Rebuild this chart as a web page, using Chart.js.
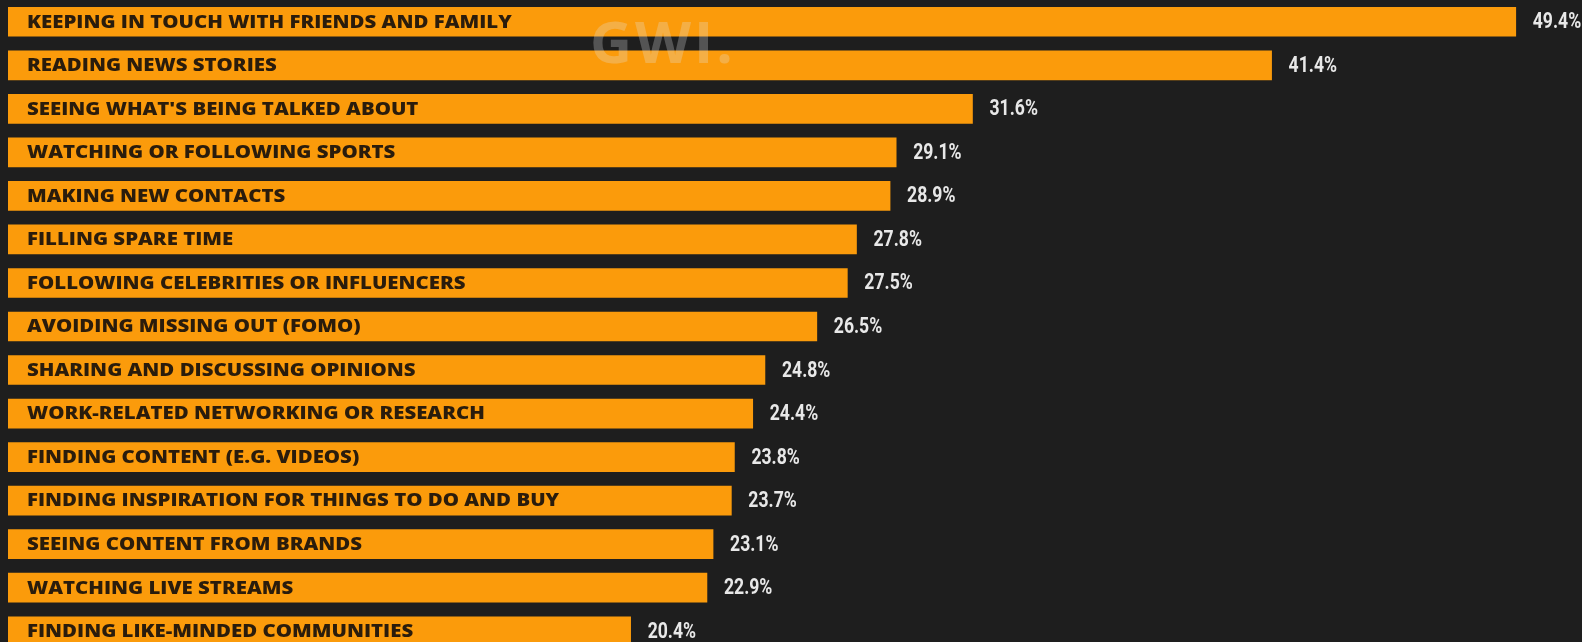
<!DOCTYPE html>
<html>
<head>
<meta charset="utf-8">
<script src="https://cdn.jsdelivr.net/npm/chart.js@4/dist/chart.umd.min.js"></script>
<style>
  html, body { margin: 0; padding: 0; background: #1e1e1e; overflow: hidden; }
  #wrap { width: 1582px; height: 653px; position: relative; }
</style>
</head>
<body>
<div id="wrap"><canvas id="reasonsChart"></canvas></div>
<script>
// ===== DATA =====
const categories = [
  "KEEPING IN TOUCH WITH FRIENDS AND FAMILY",
  "READING NEWS STORIES",
  "SEEING WHAT'S BEING TALKED ABOUT",
  "WATCHING OR FOLLOWING SPORTS",
  "MAKING NEW CONTACTS",
  "FILLING SPARE TIME",
  "FOLLOWING CELEBRITIES OR INFLUENCERS",
  "AVOIDING MISSING OUT (FOMO)",
  "SHARING AND DISCUSSING OPINIONS",
  "WORK-RELATED NETWORKING OR RESEARCH",
  "FINDING CONTENT (E.G. VIDEOS)",
  "FINDING INSPIRATION FOR THINGS TO DO AND BUY",
  "SEEING CONTENT FROM BRANDS",
  "WATCHING LIVE STREAMS",
  "FINDING LIKE-MINDED COMMUNITIES"
];
const shares = [49.4, 41.4, 31.6, 29.1, 28.9, 27.8, 27.5, 26.5, 24.8, 24.4, 23.8, 23.7, 23.1, 22.9, 20.4];

const BAR_COLOR = "#fb9b0b";

// ===== LABELS =====
const barLabels = {
  id: "barLabels",
  afterDatasetsDraw(chart) {
    const ctx = chart.ctx;
    const meta = chart.getDatasetMeta(0);
    ctx.save();
    ctx.textBaseline = "middle";
    ctx.textAlign = "left";
    meta.data.forEach((bar, i) => {
      // category name inside the bar, stretched wide
      ctx.save();
      ctx.translate(bar.base + 19, bar.y + 1);
      ctx.scale(1.2, 1);
      ctx.fillStyle = "#2a1c0c";
      ctx.font = "800 17px 'Open Sans'";
      ctx.fillText(categories[i], 0, 0);
      ctx.restore();

      // value to the right of the bar, squeezed to look condensed
      ctx.save();
      ctx.translate(bar.x + 17, bar.y + 1);
      ctx.scale(0.8, 1);
      ctx.fillStyle = "#e8e8e8";
      ctx.font = "bold 22px Roboto";
      ctx.fillText(shares[i].toFixed(1) + "%", 0, 0);
      ctx.restore();
    });

    // watermark
    ctx.fillStyle = "rgba(225,225,225,0.28)";
    ctx.font = "bold 58px 'Open Sans'";
    ctx.letterSpacing = "3px";
    ctx.textBaseline = "alphabetic";
    ctx.fillText("GWI.", 590, 63);
    ctx.restore();
  }
};

// ===== CHART =====
const ctx = document.getElementById("reasonsChart").getContext("2d");

new Chart(ctx, {
  type: "bar",
  data: {
    labels: categories,
    datasets: [
      {
        data: shares,
        backgroundColor: BAR_COLOR,
        barThickness: 29,
        borderWidth: 0
      }
    ]
  },
  options: {
    indexAxis: "y",
    responsive: true,
    maintainAspectRatio: false,
    animation: false,
    layout: { padding: { left: 8, right: 0, top: 0, bottom: 0 } },
    scales: {
      x: { display: false, min: 0, max: 51.57 },
      y: { display: false }
    },
    plugins: {
      legend: { display: false },
      tooltip: { enabled: false }
    }
  },
  plugins: [barLabels]
});
</script>
</body>
</html>
